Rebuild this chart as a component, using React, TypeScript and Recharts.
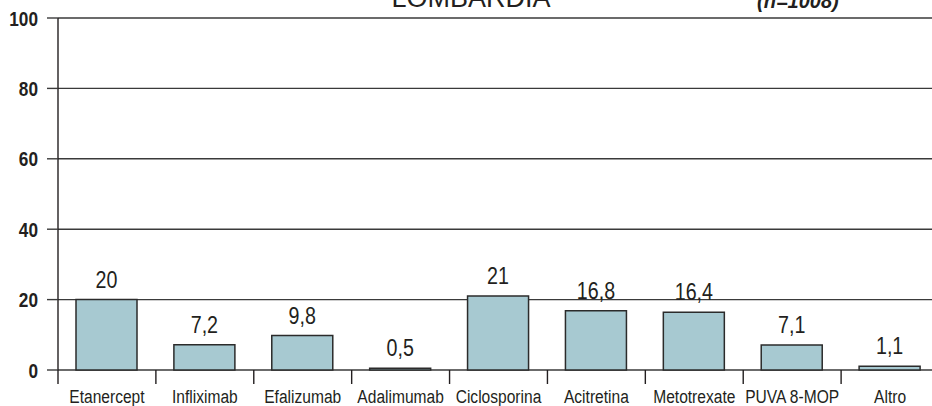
import React from 'react';
import { BarChart, Bar, XAxis, YAxis, CartesianGrid, LabelList } from 'recharts';

const farmaci = [
  'Etanercept', 'Infliximab', 'Efalizumab', 'Adalimumab', 'Ciclosporina',
  'Acitretina', 'Metotrexate', 'PUVA 8-MOP', 'Altro'
];
const percentuali = [20, 7.2, 9.8, 0.5, 21, 16.8, 16.4, 7.1, 1.1];
const yTicks = [0, 20, 40, 60, 80, 100];

const data = farmaci.map((nome, i) => ({ nome, valore: percentuali[i] }));

const W = 940;
const H = 406;
const M = { top: 18, right: 1, bottom: 0, left: 0 };
const Y_W = 58;
const X_H = 36;
const BAND = (W - M.left - M.right - Y_W) / farmaci.length;

// no narrow font available: squeeze Liberation Sans horizontally instead
const SANS = "'Liberation Sans', Arial, sans-serif";
const SQUEEZE = 0.82;
const INK = '#231f20';

const NarrowText = ({ x, y, size, bold, anchor, children }: any) => (
  <text
    transform={`translate(${x},${y}) scale(${SQUEEZE},1)`}
    x={0}
    y={0}
    textAnchor={anchor || 'middle'}
    fontFamily={SANS}
    fontSize={size}
    fontWeight={bold ? 'bold' : 'normal'}
    fill={INK}
  >
    {children}
  </text>
);

const CategoryTick = (props: any) => {
  const { x, y, payload } = props;
  const left = x - BAND / 2;
  return (
    <g>
      <line x1={left} x2={left} y1={y} y2={y + 14} stroke={INK} strokeWidth={1.4} />
      <NarrowText x={x} y={y + 33} size={19}>{payload.value}</NarrowText>
    </g>
  );
};

const ValueTick = (props: any) => {
  const { x, y, payload } = props;
  return <NarrowText x={x} y={y + 7.5} size={21} bold anchor="end">{payload.value}</NarrowText>;
};

const ValueLabel = (props: any) => {
  const { x, y, width, value } = props;
  return (
    <NarrowText x={x + width / 2} y={y - 12} size={24}>
      {String(value).replace('.', ',')}
    </NarrowText>
  );
};

export default function App() {
  return (
    <div style={{ position: 'absolute', left: 0, top: 0, width: 932, height: 406, overflow: 'hidden', background: '#fff' }}>
      <BarChart width={W} height={H} data={data} margin={M}>
        <CartesianGrid vertical={false} stroke="#3a3a3a" strokeWidth={1.4} />
        <XAxis
          dataKey="nome"
          height={X_H}
          axisLine={false}
          tickLine={false}
          tickSize={0}
          tickMargin={0}
          interval={0}
          tick={<CategoryTick />}
        />
        <YAxis
          width={Y_W}
          domain={[0, 100]}
          ticks={yTicks}
          interval={0}
          tickSize={11}
          tickMargin={9}
          axisLine={{ stroke: INK, strokeWidth: 1.4 }}
          tickLine={{ stroke: '#3a3a3a', strokeWidth: 1.4 }}
          tick={<ValueTick />}
        />
        <Bar dataKey="valore" fill="#a7c9d1" stroke="#2b2b2b" strokeWidth={1.5} barSize={61} isAnimationActive={false}>
          <LabelList dataKey="valore" content={<ValueLabel />} />
        </Bar>
      </BarChart>
      <div style={{ position: 'absolute', left: 471, top: 12, transform: 'translate(-50%, -100%)', fontFamily: SANS, fontSize: 27, lineHeight: '27px', color: INK, whiteSpace: 'nowrap' }}>
        LOMBARDIA
      </div>
      <div style={{ position: 'absolute', left: 757, top: 11, transform: 'translateY(-100%)', fontFamily: SANS, fontSize: 20, lineHeight: '20px', fontWeight: 'bold', fontStyle: 'italic', color: INK, whiteSpace: 'nowrap' }}>
        (n=1008)
      </div>
    </div>
  );
}
